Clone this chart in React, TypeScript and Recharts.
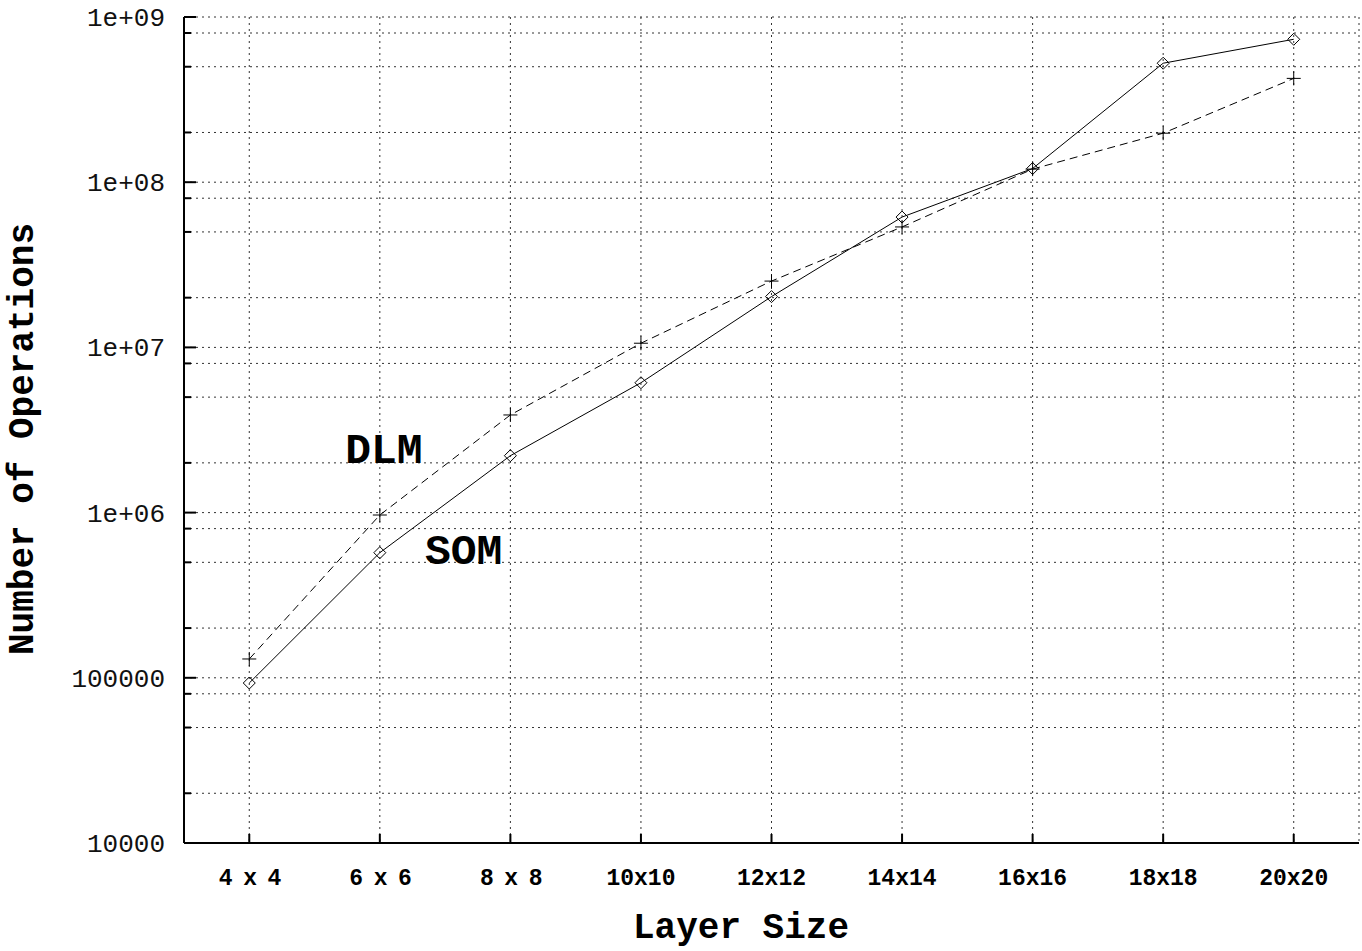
import React from 'react';
import {
  LineChart,
  Line,
  XAxis,
  YAxis,
  CartesianGrid,
  ReferenceDot,
} from 'recharts';

// ---- data ----
const layerSizes = [4, 6, 8, 10, 12, 14, 16, 18, 20];
const layerLabels = ['4 x 4', '6 x 6', '8 x 8', '10x10', '12x12', '14x14', '16x16', '18x18', '20x20'];
const somOps = [9.3e4, 5.72e5, 2.21e6, 6.11e6, 2.03e7, 6.15e7, 1.21e8, 5.25e8, 7.33e8];
const dlmOps = [1.3e5, 9.67e5, 3.9e6, 1.06e7, 2.52e7, 5.36e7, 1.2e8, 1.98e8, 4.25e8];

const majorTicks = [10000, 100000, 1000000, 10000000, 100000000, 1000000000];
const minorFactors = [2, 5, 8];
const majorTickLabels = ['10000', '100000', '1e+06', '1e+07', '1e+08', '1e+09'];

const seriesNotes = [
  { text: 'DLM', size: 5.47, ops: 2.0e6 },
  { text: 'SOM', size: 6.69, ops: 4.89e5 },
];

// ---- derived ----
const chartData = layerSizes.map((n, i) => ({ n, som: somOps[i], dlm: dlmOps[i] }));
const yTicks: number[] = [];
majorTicks.forEach((m, i) => {
  yTicks.push(m);
  if (i < majorTicks.length - 1) minorFactors.forEach((f) => yTicks.push(m * f));
});
yTicks.sort((a, b) => a - b);

const isMajor = (v: number) => majorTicks.some((m) => Math.abs(m - v) / m < 1e-9);
const majorLabel = (v: number) => {
  const idx = majorTicks.findIndex((m) => Math.abs(m - v) / m < 1e-9);
  return idx >= 0 ? majorTickLabels[idx] : '';
};
const sizeLabel = (v: number) => {
  const idx = layerSizes.indexOf(v);
  return idx >= 0 ? layerLabels[idx] : '';
};

const FONT = "'Liberation Mono', 'Courier New', monospace";

const LeftTick = (props: any) => {
  const { x, y, payload } = props;
  const major = isMajor(payload.value);
  return (
    <g>
      <line x1={x} x2={x + (major ? 12 : 7)} y1={y} y2={y} stroke="#000" strokeWidth={2} />
      {major && (
        <text x={x - 19} y={y + 9} textAnchor="end" fontFamily={FONT} fontSize={26} fill="#111">
          {majorLabel(payload.value)}
        </text>
      )}
    </g>
  );
};

const RightTick = (props: any) => {
  const { x, y, payload } = props;
  const major = isMajor(payload.value);
  return <line x1={x} x2={x - (major ? 12 : 7)} y1={y} y2={y} stroke="#000" strokeWidth={2} />;
};

const BottomTick = (props: any) => {
  const { x, y, payload } = props;
  const label = sizeLabel(payload.value);
  const spaced = label.includes(' ');
  return (
    <g>
      <line x1={x} x2={x} y1={y} y2={y - 9} stroke="#000" strokeWidth={2} />
      <text
        x={x}
        y={y + 42}
        textAnchor="middle"
        fontFamily={FONT}
        fontWeight="bold"
        fontSize={23}
        fill="#000"
        letterSpacing={spaced ? -1.6 : 0}
      >
        {label}
      </text>
    </g>
  );
};

const TopTick = (props: any) => {
  const { x, y } = props;
  return <line x1={x} x2={x} y1={y} y2={y + 11} stroke="#000" strokeWidth={2} />;
};

const Diamond = (props: any) => {
  const { cx, cy } = props;
  if (cx == null || cy == null) return <g />;
  const r = 6;
  return (
    <path
      d={`M${cx},${cy - r}L${cx + r},${cy}L${cx},${cy + r}L${cx - r},${cy}Z`}
      fill="none"
      stroke="#000"
      strokeWidth={1}
    />
  );
};

const Plus = (props: any) => {
  const { cx, cy } = props;
  if (cx == null || cy == null) return <g />;
  const r = 7;
  return (
    <path d={`M${cx - r},${cy}H${cx + r}M${cx},${cy - r}V${cy + r}`} fill="none" stroke="#000" strokeWidth={1} />
  );
};

const axisLineStyle = { stroke: '#000', strokeWidth: 2 };

export default function App() {
  return (
    <div style={{ position: 'absolute', left: 0, top: 0, width: 1362, height: 951, background: '#fff' }}>
      <LineChart width={1362} height={951} data={chartData} margin={{ top: 17, right: 3, bottom: 8, left: 4 }}>
        <CartesianGrid stroke="#333" strokeWidth={1} strokeDasharray="2 4" />
        <XAxis
          dataKey="n"
          type="number"
          domain={[3, 21]}
          ticks={layerSizes}
          interval={0}
          height={100}
          tickSize={0}
          tickMargin={0}
          tickLine={false}
          axisLine={axisLineStyle}
          tick={<BottomTick />}
          label={{
            content: () => (
              <text x={741} y={938} textAnchor="middle" fontFamily={FONT} fontWeight="bold" fontSize={36} fill="#000">
                Layer Size
              </text>
            ),
          }}
        />
        <XAxis
          xAxisId="top"
          orientation="top"
          dataKey="n"
          type="number"
          domain={[3, 21]}
          ticks={layerSizes}
          interval={0}
          height={0}
          tickSize={0}
          tickMargin={0}
          tickLine={false}
          axisLine={axisLineStyle}
          tick={<TopTick />}
        />
        <YAxis
          scale="log"
          type="number"
          domain={[10000, 1000000000]}
          allowDataOverflow
          ticks={yTicks}
          interval={0}
          width={180}
          tickSize={0}
          tickMargin={0}
          tickLine={false}
          axisLine={axisLineStyle}
          tick={<LeftTick />}
          label={{
            content: () => (
              <text
                x={33}
                y={439}
                transform="rotate(-90, 33, 439)"
                textAnchor="middle"
                fontFamily={FONT}
                fontWeight="bold"
                fontSize={36}
                fill="#000"
              >
                Number of Operations
              </text>
            ),
          }}
        />
        <YAxis
          yAxisId="right"
          orientation="right"
          scale="log"
          type="number"
          domain={[10000, 1000000000]}
          allowDataOverflow
          ticks={yTicks}
          interval={0}
          width={0}
          tickSize={0}
          tickMargin={0}
          tickLine={false}
          axisLine={axisLineStyle}
          tick={<RightTick />}
        />
        <Line
          dataKey="dlm"
          stroke="#000"
          strokeWidth={1}
          strokeDasharray="8 5"
          isAnimationActive={false}
          dot={(p: any) => <Plus key={`dlm-${p.index}`} {...p} />}
          activeDot={false}
        />
        <Line
          dataKey="som"
          stroke="#000"
          strokeWidth={1}
          isAnimationActive={false}
          dot={(p: any) => <Diamond key={`som-${p.index}`} {...p} />}
          activeDot={false}
        />
        {seriesNotes.map((note) => (
          <ReferenceDot
            key={note.text}
            x={note.size}
            y={note.ops}
            r={1}
            shape={(p: any) => (
              <text x={p.cx} y={p.cy} fontFamily={FONT} fontWeight="bold" fontSize={43} fill="#000">
                {note.text}
              </text>
            )}
          />
        ))}
      </LineChart>
    </div>
  );
}
